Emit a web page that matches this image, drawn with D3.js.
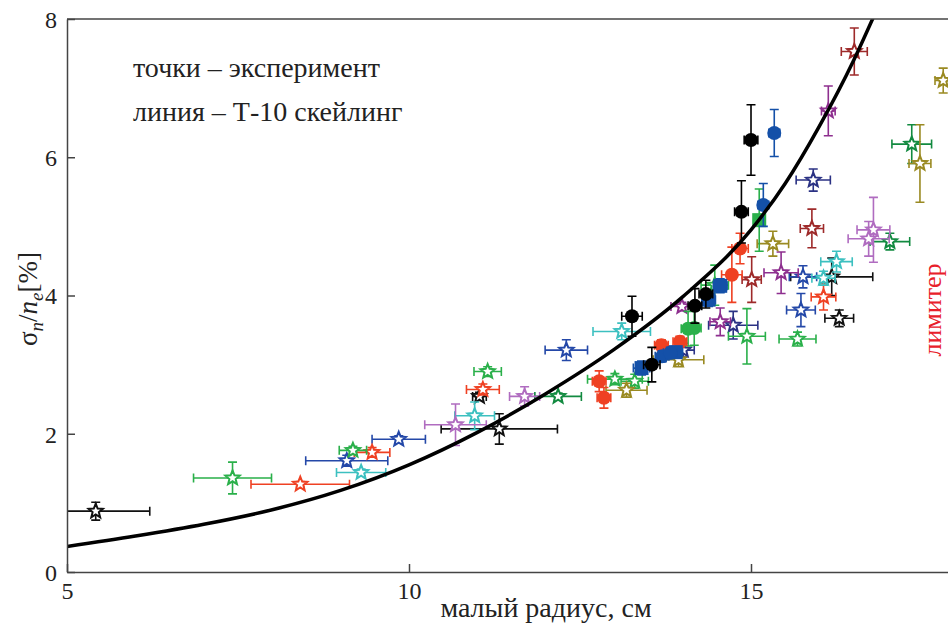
<!DOCTYPE html>
<meta charset="utf-8">
<html>
<head>
    <title>sigma/n</title>
</head>
<style type="text/css">
    body{ margin:0; background:#fff; }
    text{ font-family: "Liberation Serif", "DejaVu Serif", serif; }
</style>
<script src="https://cdnjs.cloudflare.com/ajax/libs/d3/7.8.5/d3.min.js"></script>
<body>
<script type="text/javascript">
// T-10 scaling line
var curveR = [5.0, 6.0, 7.0, 8.0, 9.0, 10.0, 11.0, 12.0, 13.0, 14.0, 15.0, 15.5, 16.0, 16.5, 16.8, 17.0]
var curveS = [0.37, 0.52, 0.69, 0.90, 1.18, 1.55, 2.02, 2.58, 3.22, 3.98, 4.95, 5.62, 6.45, 7.40, 8.05, 8.5]

// experiment points: [r, sigma, dr, dsigma]
var blackStar = [[5.42,0.88,0.79,0.13],[11.32,2.07,0.85,0.22],[11.03,2.54,0.1,0.06],[16.18,4.27,0.6,0.27],[16.29,3.67,0.21,0.12]]
var blueStar = [[9.09,1.61,0.6,0.08],[9.85,1.92,0.39,0.05],[12.30,3.21,0.31,0.15],[15.76,4.27,0.2,0.16],[15.73,3.79,0.21,0.24]]
var navyStar = [[14.01,3.21,0.16,0.1],[14.74,3.57,0.36,0.2],[15.91,5.67,0.25,0.16]]
var redStar = [[8.41,1.27,0.72,0.04],[9.46,1.73,0.26,0.07],[11.08,2.64,0.24,0.08],[16.06,3.98,0.18,0.19]]
var greenStar = [[7.42,1.36,0.57,0.23],[9.18,1.76,0.2,0.06],[11.15,2.90,0.2,0.07],[13.01,2.79,0.4,0.08],[13.3,2.76,0.2,0.1],[14.47,4.15,0.2,0.29],[14.94,3.41,0.27,0.4],[15.68,3.37,0.27,0.1]]
var darkGreenStar = [[12.18,2.54,0.34,0.05],[17.03,4.78,0.29,0.12],[17.35,6.19,0.29,0.28]]
var cyanStar = [[9.30,1.44,0.36,0.05],[10.96,2.26,0.29,0.2],[13.11,3.48,0.42,0.12],[16.06,4.25,0.17,0.1],[16.25,4.49,0.23,0.15]]
var lilacStar = [[10.68,2.13,0.45,0.3],[11.69,2.54,0.22,0.14],[16.79,4.95,0.24,0.47],[16.72,4.82,0.3,0.25]]
var purpleStar = [[13.99,3.84,0.16,0.06],[14.55,3.62,0.15,0.2],[15.44,4.33,0.25,0.3],[16.13,6.67,0.1,0.36]]
var maroonStar = [[15.01,4.23,0.14,0.33],[15.89,4.97,0.17,0.28],[16.51,7.53,0.19,0.34]]
var oliveStar = [[13.18,2.63,0.3,0.1],[13.94,3.07,0.37,0.1],[15.32,4.75,0.23,0.18],[17.47,5.91,0.16,0.56],[17.81,7.11,0.12,0.18]]
var blackCircle = [[13.26,3.70,0.15,0.29],[13.55,3.0,0.12,0.25],[14.18,3.85,0.1,0.25],[14.34,4.02,0.1,0.2],[14.86,5.21,0.1,0.45],[15.0,6.25,0.1,0.51]]
var blueCircle = [[15.34,6.35,0.08,0.34],[15.18,5.31,0.08,0.31],[13.7,3.12,0.1,0.08],[13.82,3.17,0.1,0.08]]
var blueSquare = [[13.40,2.95,0.12,0.1],[13.9,3.18,0.1,0.08],[14.38,3.94,0.1,0.1],[14.55,4.14,0.1,0.1]]
var redCircle = [[12.78,2.76,0.1,0.15],[12.85,2.52,0.1,0.15],[13.69,3.28,0.1,0.08],[13.96,3.33,0.1,0.08],[14.72,4.30,0.15,0.4],[14.84,4.68,0.12,0.22]]
var greenCircle = [[14.08,3.52,0.1,0.25],[14.17,3.53,0.1,0.25]]
var greenSquare = [[15.12,5.09,0.08,0.45]]

var xTicks = [5, 10, 15]
var yTicks = [0, 2, 4, 6, 8]

var series = [
    {pts: blackStar, color: "#111", shape: "star"},
    {pts: blueStar, color: "#2448a8", shape: "star"},
    {pts: navyStar, color: "#2b3284", shape: "star"},
    {pts: redStar, color: "#ef4123", shape: "star"},
    {pts: greenStar, color: "#2ab04a", shape: "star"},
    {pts: darkGreenStar, color: "#128a40", shape: "star"},
    {pts: cyanStar, color: "#3cc0c0", shape: "star"},
    {pts: lilacStar, color: "#b06cc0", shape: "star"},
    {pts: purpleStar, color: "#8e2f8f", shape: "star"},
    {pts: maroonStar, color: "#9e2a2a", shape: "star"},
    {pts: oliveStar, color: "#9a8a22", shape: "star"},
    {pts: greenSquare, color: "#2ab04a", shape: "square"},
    {pts: greenCircle, color: "#2ab04a", shape: "circle"},
    {pts: redCircle, color: "#ef4123", shape: "circle"},
    {pts: blueSquare, color: "#1450a8", shape: "square"},
    {pts: blueCircle, color: "#1450a8", shape: "circle"},
    {pts: blackCircle, color: "#000", shape: "circle"}
]

function draw(){
    var svgWidth = 948
    var svgHeight = 624
    var box = {left: 67, top: 19, bottom: 572, right: 948}

    var x = d3.scaleLinear().domain([5, 17.88]).range([box.left, box.right])
    var y = d3.scaleLinear().domain([0, 8]).range([box.bottom, box.top])

    var svg = d3.select("body").append("svg")
        .attr("width", svgWidth)
        .attr("height", svgHeight)
        .attr("font-family", "Liberation Serif")

    svg.append("clipPath").attr("id", "plot")
       .append("rect").attr("x", box.left).attr("y", box.top)
       .attr("width", box.right - box.left).attr("height", box.bottom - box.top)

    var plot = svg.append("g").attr("clip-path", "url(#plot)")

    function starPath(R, r){
        var p = []
        for (var i = 0; i < 10; i++){
            var a = -Math.PI/2 + i*Math.PI/5
            var rr = i % 2 ? r : R
            p.push([rr*Math.cos(a), rr*Math.sin(a)])
        }
        return "M" + p.map(d => d[0].toFixed(2) + "," + d[1].toFixed(2)).join("L") + "Z"
    }
    var star = starPath(7.5, 3.3)
    var cap = 4.5

    series.forEach(s=>{
        var g = plot.append("g").attr("stroke", s.color).attr("stroke-width", 1.6).attr("fill", "none")
        s.pts.forEach(d=>{
            var cx = x(d[0]), cy = y(d[1])
            var x0 = x(d[0]-d[2]), x1 = x(d[0]+d[2])
            var y0 = y(d[1]-d[3]), y1 = y(d[1]+d[3])
            g.append("path")
             .attr("d", `M${x0},${cy}H${x1}M${x0},${cy-cap}V${cy+cap}M${x1},${cy-cap}V${cy+cap}` +
                        `M${cx},${y0}V${y1}M${cx-cap},${y0}H${cx+cap}M${cx-cap},${y1}H${cx+cap}`)
            if (s.shape == "star"){
                g.append("path").attr("d", star)
                 .attr("transform", `translate(${cx},${cy})`)
                 .attr("fill", "#fff").attr("stroke-width", 2)
            } else if (s.shape == "circle"){
                g.append("circle").attr("cx", cx).attr("cy", cy).attr("r", 7)
                 .attr("fill", s.color).attr("stroke", "none")
            } else {
                g.append("rect").attr("x", cx-7).attr("y", cy-7).attr("width", 14).attr("height", 14)
                 .attr("fill", s.color).attr("stroke", "none")
            }
        })
    })

    // scaling curve
    var line = d3.line().x(d => x(d[0])).y(d => y(d[1])).curve(d3.curveMonotoneX)
    plot.append("path")
        .datum(curveR.map((r, i) => [r, curveS[i]]))
        .attr("d", line)
        .attr("fill", "none")
        .attr("stroke", "#000")
        .attr("stroke-width", 3.5)

    // axes
    var xAxis = d3.axisBottom(x).tickValues(xTicks).tickSizeInner(-8).tickSizeOuter(0).tickPadding(10)
    var yAxis = d3.axisLeft(y).tickValues(yTicks).tickSizeInner(-8).tickSizeOuter(0).tickPadding(10)

    var gx = svg.append("g").attr("transform", "translate(0," + box.bottom + ")").call(xAxis)
    var gy = svg.append("g").attr("transform", "translate(" + box.left + ",0)").call(yAxis)
    ;[gx, gy].forEach(g=>{
        g.attr("font-family", "Liberation Serif")
        g.selectAll("path, line").attr("stroke", "#444").attr("stroke-width", 1.5)
        g.selectAll("text").attr("font-size", 24).attr("fill", "#222")
    })
    gy.selectAll("text").attr("dy", "0.35em")

    svg.append("line").attr("x1", box.left).attr("x2", box.right).attr("y1", box.top).attr("y2", box.top)
       .attr("stroke", "#444").attr("stroke-width", 1.5)

    // labels
    svg.append("text").attr("x", 546).attr("y", 617).attr("text-anchor", "middle")
       .attr("font-size", 28).attr("fill", "#222").text("малый радиус, см")

    var yl = svg.append("text").attr("transform", "translate(37,299) rotate(-90)")
       .attr("text-anchor", "middle").attr("font-size", 27).attr("fill", "#222")
    yl.append("tspan").text("σ")
    yl.append("tspan").attr("font-style", "italic").attr("font-size", 19).attr("dy", 6).text("n")
    yl.append("tspan").attr("dy", -6).text("/")
    yl.append("tspan").attr("font-style", "italic").text("n")
    yl.append("tspan").attr("font-style", "italic").attr("font-size", 19).attr("dy", 6).text("e")
    yl.append("tspan").attr("dy", -6).text("[%]")

    svg.append("text").attr("x", 133).attr("y", 77).attr("font-size", 28).attr("fill", "#222")
       .text("точки – эксперимент")
    svg.append("text").attr("x", 133).attr("y", 121).attr("font-size", 28).attr("fill", "#222")
       .text("линия – Т-10 скейлинг")

    svg.append("text").attr("transform", "translate(941,310) rotate(-90)")
       .attr("text-anchor", "middle").attr("font-size", 26).attr("fill", "#e8202a")
       .text("лимитер")
}
draw()
</script>
</body>
</html>
